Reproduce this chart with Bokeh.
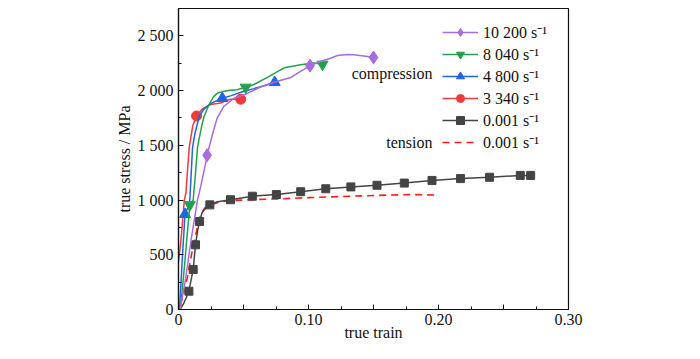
from bokeh.plotting import figure
from bokeh.models import FixedTicker, Legend, LegendItem, Label
from bokeh.embed import file_html
from bokeh.resources import INLINE

FONT = "Liberation Serif"

# ---------------- data ----------------
x_ticks = [0, 0.05, 0.10, 0.15, 0.20, 0.25, 0.30]
x_tick_labels = ["0", "", "0.10", "", "0.20", "", "0.30"]
x_minor = [0.025, 0.075, 0.125, 0.175, 0.225, 0.275]
y_ticks = [0, 500, 1000, 1500, 2000, 2500]
y_tick_labels = ["0", "500", "1 000", "1 500", "2 000", "2 500"]
y_minor = [250, 750, 1250, 1750, 2250, 2750]

labels = ["10 200 s\u207b\u00b9", "8 040 s\u207b\u00b9", "4 800 s\u207b\u00b9",
          "3 340 s\u207b\u00b9", "0.001 s\u207b\u00b9", "0.001 s\u207b\u00b9"]

# 10 200 /s
p_x = [0.0013, 0.0054, 0.010, 0.0146, 0.017, 0.0208, 0.0220, 0.026, 0.0285, 0.0298, 0.035,
       0.0427, 0.053, 0.063, 0.0735, 0.0864, 0.1012, 0.110, 0.117, 0.1223, 0.130, 0.135, 0.1455, 0.150]
p_y = [0, 278, 660, 1000, 1120, 1331, 1410, 1594, 1700, 1750, 1857,
       1930, 1974, 2033, 2076, 2120, 2228, 2270, 2296, 2320, 2330, 2328, 2311, 2302]
p_mx = [0.0220, 0.1012, 0.150]
p_my = [1410, 2228, 2302]

# 8 040 /s
g_x = [0.0015, 0.005, 0.0087, 0.0113, 0.0131, 0.0146, 0.0157, 0.0183, 0.0198, 0.0234, 0.027,
       0.0298, 0.035, 0.040, 0.045, 0.0517, 0.058, 0.0684, 0.0812, 0.094, 0.104, 0.1108]
g_y = [0, 450, 956, 1000, 1250, 1477, 1550, 1700, 1768, 1870, 1945,
       1975, 1995, 2004, 2008, 2030, 2056, 2120, 2208, 2237, 2252, 2240]
g_mx = [0.0087, 0.0517, 0.1108]
g_my = [956, 2030, 2240]

# 4 800 /s
b_x = [0.0008, 0.003, 0.0050, 0.0075, 0.0087, 0.0108, 0.0125, 0.016, 0.019, 0.0225, 0.027,
       0.0337, 0.040, 0.048, 0.058, 0.066, 0.074]
b_y = [0, 480, 870, 940, 1000, 1477, 1600, 1768, 1820, 1862, 1895,
       1930, 1952, 1985, 2018, 2045, 2076]
b_mx = [0.0050, 0.0337, 0.074]
b_my = [870, 1930, 2076]

# 3 340 /s
r_x = [0.0, 0.002, 0.0045, 0.0057, 0.0082, 0.011, 0.0139, 0.0170, 0.0195, 0.0247, 0.0324,
       0.036, 0.040, 0.0478]
r_y = [430, 650, 1000, 1066, 1477, 1680, 1768, 1815, 1842, 1872, 1886,
       1905, 1921, 1921]
r_mx = [0.0139, 0.0478]
r_my = [1768, 1921]

# 0.001 /s compression
k_x = [0, 0.002, 0.004, 0.006, 0.008, 0.0095, 0.0113, 0.0131, 0.0147, 0.0162, 0.018, 0.020,
       0.0241, 0.030, 0.040, 0.0568, 0.0753, 0.094, 0.1133, 0.1326, 0.1527, 0.1737, 0.195,
       0.2169, 0.2393, 0.2629, 0.2709]
k_y = [0, 15, 55, 110, 167, 260, 366, 591, 720, 804, 880, 925,
       956, 985, 1003, 1035, 1050, 1076, 1103, 1120, 1135, 1155, 1179,
       1196, 1208, 1225, 1225]
k_mx = [0.008, 0.0113, 0.0131, 0.0162, 0.0241, 0.040, 0.0568, 0.0753, 0.094, 0.1133, 0.1326,
        0.1527, 0.1737, 0.195, 0.2169, 0.2393, 0.2629, 0.2709]
k_my = [167, 366, 591, 804, 956, 1003, 1035, 1050, 1076, 1103, 1120,
        1135, 1155, 1179, 1196, 1208, 1225, 1225]

# 0.001 /s tension
t_x = [0.0015, 0.004, 0.007, 0.0095, 0.012, 0.014, 0.016, 0.019, 0.022, 0.026, 0.032, 0.040,
       0.060, 0.080, 0.100, 0.120, 0.140, 0.160, 0.180, 0.200]
t_y = [40, 150, 300, 470, 620, 720, 833, 900, 935, 960, 985, 995,
       1005, 1012, 1022, 1030, 1038, 1045, 1050, 1045]

C_PUR = "#a86ce0"
C_GRN = "#23a04c"
C_BLU = "#1f64e0"
C_RED = "#ef3b3b"
C_BLK = "#444444"
C_TEN = "#ff1a1a"

p = figure(width=684, height=343, output_backend="svg", toolbar_location=None,
           x_range=(0, 0.30), y_range=(0, 2750),
           min_border_left=178, min_border_right=116, min_border_top=8, min_border_bottom=31)
p.grid.visible = False
p.outline_line_color = "#111111"
p.outline_line_width = 1.2
p.background_fill_color = "white"
p.border_fill_color = "white"

for ax, ticks, minor, labs in [(p.xaxis[0], x_ticks, x_minor, x_tick_labels),
                               (p.yaxis[0], y_ticks, y_minor, y_tick_labels)]:
    ax.ticker = FixedTicker(ticks=ticks, minor_ticks=minor)
    ax.major_label_overrides = {t: l for t, l in zip(ticks, labs)}
    ax.major_tick_in = 5
    ax.major_tick_out = 0
    ax.minor_tick_in = 3
    ax.minor_tick_out = 0
    ax.axis_line_color = "#111111"
    ax.axis_line_width = 1.2
    ax.major_tick_line_color = "#111111"
    ax.minor_tick_line_color = "#111111"
    ax.major_label_text_font = FONT
    ax.major_label_text_font_size = "16px"
    ax.major_label_text_color = "#111111"
    ax.axis_label_text_font = FONT
    ax.axis_label_text_font_size = "16px"
    ax.axis_label_text_font_style = "normal"
    ax.axis_label_text_color = "#111111"

p.xaxis.major_label_standoff = 4
p.yaxis.major_label_standoff = 5
p.xaxis.axis_label = "true train"
p.xaxis.axis_label_standoff = -4
p.yaxis.axis_label = "true stress / MPa"
p.yaxis.axis_label_standoff = 2

l = p.line(t_x, t_y, line_color=C_TEN, line_width=1.6, line_dash="7 5")
tension_item = LegendItem(label=labels[5], renderers=[l])

l = p.line(k_x, k_y, line_color=C_BLK, line_width=1.5)
s = p.scatter(k_mx, k_my, marker="square", size=8, fill_color=C_BLK, line_color=C_BLK)
black_item = LegendItem(label=labels[4], renderers=[l, s])

l = p.line(r_x, r_y, line_color=C_RED, line_width=1.5)
s = p.scatter(r_mx, r_my, marker="circle", size=10, fill_color=C_RED, line_color=C_RED)
red_item = LegendItem(label=labels[3], renderers=[l, s])

l = p.line(b_x, b_y, line_color=C_BLU, line_width=1.5)
s = p.scatter(b_mx, b_my, marker="triangle", size=11, fill_color=C_BLU, line_color=C_BLU)
blue_item = LegendItem(label=labels[2], renderers=[l, s])

l = p.line(g_x, g_y, line_color=C_GRN, line_width=1.5)
s = p.scatter(g_mx, g_my, marker="inverted_triangle", size=11, fill_color=C_GRN, line_color=C_GRN)
green_item = LegendItem(label=labels[1], renderers=[l, s])

l = p.line(p_x, p_y, line_color=C_PUR, line_width=1.5)
s = p.scatter(p_mx, p_my, marker="diamond", size=13, fill_color=C_PUR, line_color=C_PUR)
purple_item = LegendItem(label=labels[0], renderers=[l, s])

legend = Legend(items=[purple_item, green_item, blue_item, red_item, black_item, tension_item],
                location=(264, 156), orientation="vertical",
                label_text_font=FONT, label_text_font_size="16px", label_text_color="#111111",
                glyph_width=36, glyph_height=20, label_height=20, spacing=0,
                padding=0, margin=0, label_standoff=5,
                border_line_alpha=0, background_fill_alpha=0)
p.add_layout(legend)

for txt, yv in [("compression", 2156), ("tension", 1526)]:
    p.add_layout(Label(x=0.1954, y=yv, text=txt, text_align="right", text_baseline="middle",
                       text_font=FONT, text_font_size="16px", text_color="#111111"))

open("out.html", "w").write(file_html(p, INLINE))
